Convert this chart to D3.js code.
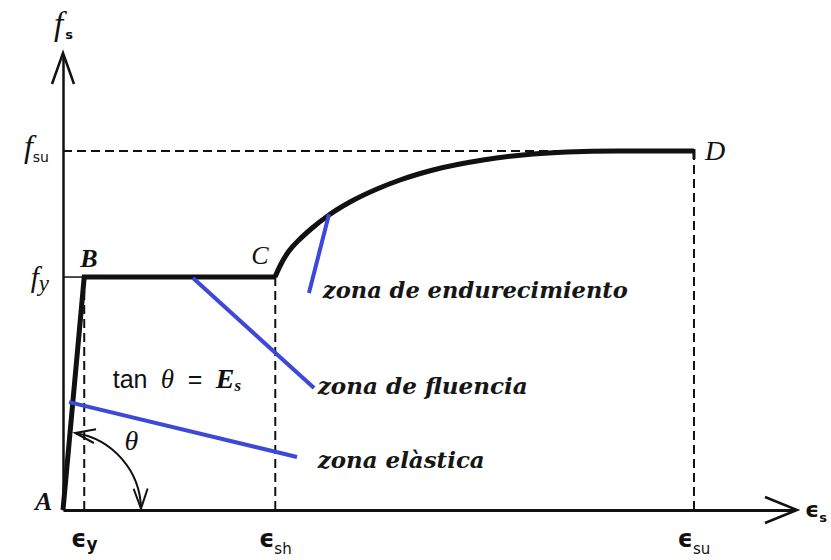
<!DOCTYPE html>
<html>
<head>
<meta charset="utf-8">
<script src="https://cdn.jsdelivr.net/npm/d3@7"></script>
<style>
  html, body { margin: 0; padding: 0; background: #ffffff; }
  svg { display: block; }
</style>
</head>
<body>
<svg id="chart" width="831" height="560"></svg>
<script>
// ---------- data (schematic units) ----------
const pointLabels  = ["A", "B", "C", "D"];
const pointStrain  = [0, 2.9, 29.0, 86.2];
const pointStress  = [0, 51.2, 51.2, 78.9];

const hardeningStrain = [28.96, 29.78, 30.87, 32.24, 33.88, 36.34, 39.21, 42.90, 46.04, 50.55, 57.38, 64.21, 68.85, 75.68, 86.2];
const hardeningStress = [51.21, 54.07, 56.92, 59.34, 61.76, 64.84, 67.69, 70.55, 72.53, 74.73, 76.92, 78.24, 78.68, 78.9, 78.9];

const strainTickValues = [2.9, 29.0, 86.2];
const strainTickMain   = ["ϵ", "ϵ", "ϵ"];
const strainTickSub    = ["y", "sh", "su"];

const stressTickValues = [51.2, 78.9];
const stressTickSub    = ["y", "su"];

const zoneNames   = ["zona de endurecimiento", "zona de fluencia", "zona elàstica"];
const zoneLeaderFrom = [[36.34, 65.0], [17.76, 51.0], [0.82, 23.7]];
const zoneLeaderTo   = [[33.6, 47.7], [34.3, 26.8], [31.97, 11.65]];
const zoneTextAt     = [[35.5, 46.6], [34.8, 25.6], [34.8, 9.3]];
const zoneTextWidth  = [305, 210, 167];

// ---------- layout ----------
const svg = d3.select("#chart");
const x = d3.scaleLinear().domain([0, 100]).range([63, 795]);
const y = d3.scaleLinear().domain([0, 100]).range([510, 55]);

const ink = "#111111";
const blue = "#3c48d8";
const serif = "'Liberation Serif', 'Times New Roman', serif";
const sans = "'Liberation Sans', Arial, sans-serif";
const dejaSans = "'DejaVu Sans', sans-serif";

// ---------- axes ----------
const xAxis = svg.append("g")
  .attr("transform", `translate(0,${y(0)})`)
  .call(d3.axisBottom(x).tickValues(strainTickValues).tickSize(0).tickSizeOuter(0).tickFormat(""));
xAxis.select(".domain").attr("stroke", ink).attr("stroke-width", 3);

const yAxis = svg.append("g")
  .attr("transform", `translate(${x(0)},0)`)
  .call(d3.axisLeft(y).tickValues(stressTickValues).tickSize(0).tickSizeOuter(0).tickFormat(""));
yAxis.select(".domain").attr("stroke", ink).attr("stroke-width", 2.5);

// arrowheads on axes
const xTip = [x(100) + 2, y(0)];
svg.append("path")
  .attr("d", `M${xTip[0] - 32},${xTip[1] - 13} L${xTip[0]},${xTip[1]} L${xTip[0] - 32},${xTip[1] + 13}`)
  .attr("fill", "none").attr("stroke", ink).attr("stroke-width", 2.5);
const yTip = [x(0), y(100) - 2];
svg.append("path")
  .attr("d", `M${yTip[0] - 11},${yTip[1] + 31} L${yTip[0]},${yTip[1]} L${yTip[0] + 11},${yTip[1] + 31}`)
  .attr("fill", "none").attr("stroke", ink).attr("stroke-width", 2.5);

// axis titles
svg.append("text")
  .attr("x", x(100) + 10).attr("y", y(0) + 7)
  .attr("font-family", dejaSans).attr("font-weight", "bold").attr("font-size", 22).attr("fill", ink)
  .call(t => {
    t.append("tspan").text("ϵ");
    t.append("tspan").attr("font-size", 13).attr("dy", 5).text("s");
  });
svg.append("text")
  .attr("x", x(0) - 9).attr("y", 35)
  .attr("fill", ink)
  .call(t => {
    t.append("tspan").attr("font-family", serif).attr("font-style", "italic").attr("font-size", 33).text("f");
    t.append("tspan").attr("font-family", dejaSans).attr("font-weight", "bold").attr("font-size", 13).attr("dx", 2).attr("dy", 4).text("s");
  });

// strain tick labels
svg.selectAll(".xlab").data(strainTickValues).enter().append("text")
  .attr("class", "xlab")
  .attr("x", d => x(d)).attr("y", y(0) + 37)
  .attr("text-anchor", "middle").attr("fill", ink)
  .each(function (d, i) {
    const t = d3.select(this);
    t.append("tspan").attr("font-family", dejaSans).attr("font-weight", "bold").attr("font-size", 24).text(strainTickMain[i]);
    const sub = t.append("tspan").attr("dy", 7).text(strainTickSub[i]);
    if (i === 0) sub.attr("font-family", dejaSans).attr("font-weight", "bold").attr("font-size", 17).attr("dy", 3);
    else sub.attr("font-family", dejaSans).attr("font-size", 15);
  });

// stress tick labels
svg.selectAll(".ylab").data(stressTickValues).enter().append("text")
  .attr("class", "ylab")
  .attr("x", x(0) - 14)
  .attr("y", (d, i) => y(d) + (i === 0 ? 10 : 6))
  .attr("text-anchor", "end").attr("fill", ink)
  .each(function (d, i) {
    const t = d3.select(this);
    t.append("tspan").attr("font-family", serif).attr("font-style", "italic").attr("font-size", i === 0 ? 29 : 32).text("f");
    if (i === 0) {
      t.append("tspan").attr("font-family", serif).attr("font-style", "italic").attr("font-size", 23).attr("dy", 4).text(stressTickSub[i]);
    } else {
      t.append("tspan").attr("font-family", dejaSans).attr("font-size", 14).attr("dy", 5).text(stressTickSub[i]);
    }
  });

// ---------- reference (dashed) lines ----------
const dash = "9,5";
const refs = svg.append("g").attr("fill", "none").attr("stroke", ink).attr("stroke-width", 2);
refs.append("line") // f_su horizontal
  .attr("x1", x(0)).attr("x2", x(pointStrain[3])).attr("y1", y(pointStress[3])).attr("y2", y(pointStress[3]))
  .attr("stroke-dasharray", dash);
refs.append("line") // f_y short solid
  .attr("x1", x(0)).attr("x2", x(pointStrain[1])).attr("y1", y(pointStress[1])).attr("y2", y(pointStress[1]))
  .attr("stroke-width", 1.5);
strainTickValues.forEach((v, i) => {
  refs.append("line")
    .attr("x1", x(v)).attr("x2", x(v))
    .attr("y1", y(i === 2 ? pointStress[3] : pointStress[1])).attr("y2", y(0))
    .attr("stroke-dasharray", dash);
});

// ---------- stress-strain curve ----------
const elasticPlateau = d3.range(3).map(i => [pointStrain[i], pointStress[i]]);
svg.append("path")
  .attr("d", d3.line().x(d => x(d[0])).y(d => y(d[1]))(elasticPlateau))
  .attr("fill", "none").attr("stroke", ink).attr("stroke-width", 5).attr("stroke-linejoin", "miter");

const hardening = hardeningStrain.map((s, i) => [s, hardeningStress[i]]);
svg.append("path")
  .attr("d", d3.line().x(d => x(d[0])).y(d => y(d[1])).curve(d3.curveMonotoneX)(hardening))
  .attr("fill", "none").attr("stroke", ink).attr("stroke-width", 5).attr("stroke-linejoin", "round");
// small end tick at D
svg.append("line")
  .attr("x1", x(pointStrain[3])).attr("x2", x(pointStrain[3]))
  .attr("y1", y(pointStress[3]) - 2).attr("y2", y(pointStress[3]) + 8)
  .attr("stroke", ink).attr("stroke-width", 3);

// point labels
const labelDx = [-28, -4, -24, 11];
const labelDy = [0, -10, -13, 9];
const labelSize = [26, 26, 26, 28];
const labelWeight = ["bold", "bold", "normal", "normal"];
svg.selectAll(".plab").data(pointLabels).enter().append("text")
  .attr("class", "plab")
  .attr("x", (d, i) => x(pointStrain[i]) + labelDx[i])
  .attr("y", (d, i) => y(pointStress[i]) + labelDy[i])
  .attr("font-family", serif).attr("font-style", "italic")
  .attr("font-weight", (d, i) => labelWeight[i])
  .attr("font-size", (d, i) => labelSize[i])
  .attr("fill", ink)
  .text(d => d);

// ---------- angle arc ----------
const cx = x(0), cy = y(0), r = 78;
const a0 = 81 * Math.PI / 180, a1 = 1 * Math.PI / 180;
const arcPath = d3.path();
arcPath.moveTo(cx + r * Math.cos(a0), cy - r * Math.sin(a0));
arcPath.arc(cx, cy, r, -a0, -a1, false);
svg.append("path").attr("d", arcPath.toString())
  .attr("fill", "none").attr("stroke", ink).attr("stroke-width", 2);

function arrowHead(theta, sign) {
  const tip = [cx + r * Math.cos(theta), cy - r * Math.sin(theta)];
  const dir = [-Math.sin(theta) * sign, -Math.cos(theta) * sign];
  const nrm = [-dir[1], dir[0]];
  const L = 20, W = 7;
  const w1 = [tip[0] - L * dir[0] + W * nrm[0], tip[1] - L * dir[1] + W * nrm[1]];
  const w2 = [tip[0] - L * dir[0] - W * nrm[0], tip[1] - L * dir[1] - W * nrm[1]];
  svg.append("path")
    .attr("d", `M${w1[0]},${w1[1]} L${tip[0]},${tip[1]} L${w2[0]},${w2[1]}`)
    .attr("fill", "none").attr("stroke", ink).attr("stroke-width", 2);
}
arrowHead(a0, 1);
arrowHead(a1, -1);

svg.append("text")
  .attr("x", x(8.4)).attr("y", y(13.2))
  .attr("font-family", serif).attr("font-style", "italic").attr("font-size", 28).attr("fill", ink)
  .text("θ");

// tan θ = Es
const tx = x(6.8), ty = y(26.8);
svg.append("text")
  .attr("x", tx).attr("y", ty)
  .attr("fill", ink)
  .call(t => {
    t.append("tspan").attr("font-family", sans).attr("font-size", 25).text("tan");
    t.append("tspan").attr("x", tx + 48).attr("font-family", serif).attr("font-style", "italic").attr("font-size", 27).text("θ");
    t.append("tspan").attr("x", tx + 75).attr("font-family", sans).attr("font-size", 25).text("=");
    t.append("tspan").attr("x", tx + 103).attr("font-family", serif).attr("font-style", "italic").attr("font-weight", "bold").attr("font-size", 28).text("E");
    t.append("tspan").attr("font-family", serif).attr("font-style", "italic").attr("font-weight", "bold").attr("font-size", 17).attr("dy", 3).text("s");
  });

// ---------- zone annotations ----------
svg.selectAll(".leader").data(zoneNames).enter().append("line")
  .attr("class", "leader")
  .attr("x1", (d, i) => x(zoneLeaderFrom[i][0])).attr("y1", (d, i) => y(zoneLeaderFrom[i][1]))
  .attr("x2", (d, i) => x(zoneLeaderTo[i][0])).attr("y2", (d, i) => y(zoneLeaderTo[i][1]))
  .attr("stroke", blue).attr("stroke-width", 4);

svg.selectAll(".zone").data(zoneNames).enter().append("text")
  .attr("class", "zone")
  .attr("x", (d, i) => x(zoneTextAt[i][0])).attr("y", (d, i) => y(zoneTextAt[i][1]))
  .attr("font-family", "'DejaVu Serif', serif").attr("font-style", "italic").attr("font-weight", "bold")
  .attr("font-size", 23).attr("fill", "#161616")
  .attr("textLength", (d, i) => zoneTextWidth[i]).attr("lengthAdjust", "spacingAndGlyphs")
  .text(d => d);
</script>
</body>
</html>
